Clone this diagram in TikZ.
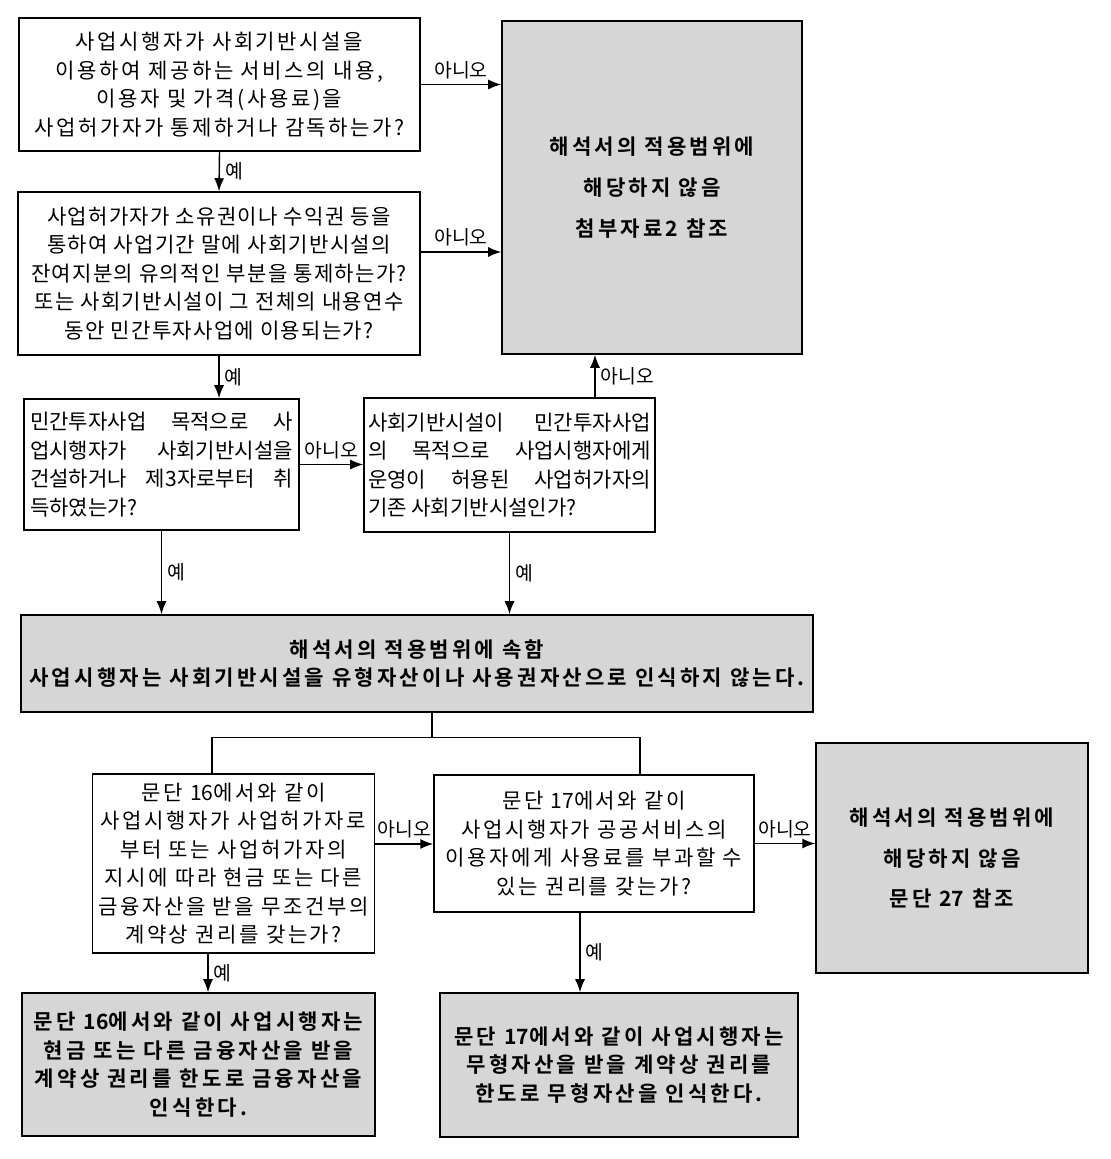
\documentclass[tikz,border=0pt]{standalone}
\usepackage{fontspec}
\newfontfamily\krfont{Noto Sans CJK KR}
\newfontfamily\krwide{Noto Sans CJK KR}[LetterSpace=12]
\newfontfamily\krmid{Noto Sans CJK KR}[LetterSpace=6]
\newfontfamily\krbold{Noto Sans CJK KR Bold}[LetterSpace=15]
\newcommand\tightnum[1]{{\addfontfeatures{LetterSpace=0}#1}}
\usetikzlibrary{arrows.meta}
\definecolor{boxgray}{RGB}{214,214,214}

\begin{document}
\begin{tikzpicture}[x=0.02cm, y=-0.02cm,
    qbox/.style={draw, line width=0.9pt, fill=white, align=center, inner xsep=0.12cm,
        font=\krwide\fontsize{12}{16.2}\selectfont},
    jbox/.style={qbox, align=justify, font=\krfont\fontsize{12}{16.2}\selectfont},
    rbox/.style={qbox, fill=boxgray, font=\krbold\fontsize{12}{16.4}\selectfont},
    tallrbox/.style={rbox, font=\krbold\fontsize{12}{23.3}\selectfont},
    arr/.style={-{Latex[length=0.26cm,width=0.2cm]}, line width=0.8pt},
    lbl/.style={font=\krfont\fontsize{11}{13}\selectfont, inner sep=3pt}]
    \useasboundingbox (0,0) rectangle (1110,1159);

    % questions, upper part
    \node[qbox, minimum width=8.02cm, minimum height=2.66cm] (q1) at (219.5,84.5)
        {사업시행자가 사회기반시설을\\이용하여 제공하는 서비스의 내용,\\이용자 및 가격(사용료)을\\사업허가자가 통제하거나 감독하는가?};
    \node[tallrbox, minimum width=6cm, minimum height=6.66cm] (r1) at (652,187.5)
        {해석서의 적용범위에\\해당하지 않음\\첨부자료2 참조};
    \node[qbox, font=\krmid\fontsize{12}{16.2}\selectfont, minimum width=8.04cm, minimum height=3.26cm] (q2) at (219,273.5)
        {사업허가자가 소유권이나 수익권 등을\\통하여 사업기간 말에 사회기반시설의\\잔여지분의 유의적인 부분을 통제하는가?\\또는 사회기반시설이 그 전체의 내용연수\\동안 민간투자사업에 이용되는가?};
    \node[jbox, text width=5.26cm, minimum height=2.62cm] (q3) at (161.5,464.5)
        {민간투자사업 목적으로 사\linebreak 업시행자가 사회기반시설을\linebreak 건설하거나 제3자로부터 취\linebreak 득하였는가?};
    \node[jbox, inner xsep=0.08cm, text width=5.66cm, minimum height=2.68cm] (q4) at (509.5,465)
        {사회기반시설이 민간투자사업\linebreak 의 목적으로 사업시행자에게\linebreak 운영이 허용된 사업허가자의\linebreak 기존 사회기반시설인가?};
    \node[rbox, minimum width=15.84cm, minimum height=1.94cm] (inc) at (417,663.5)
        {해석서의 적용범위에 속함\\사업시행자는 사회기반시설을 유형자산이나 사용권자산으로 인식하지 않는다.};

    % questions, lower part
    \node[qbox, minimum width=5.62cm, minimum height=3.58cm] (q5) at (233.5,863.5)
        {문단 \tightnum{16}에서와 같이\\사업시행자가 사업허가자로\\부터 또는 사업허가자의\\지시에 따라 현금 또는 다른\\금융자산을 받을 무조건부의\\계약상 권리를 갖는가?};
    \node[qbox, minimum width=6.4cm, minimum height=2.74cm] (q6) at (594,843.5)
        {문단 \tightnum{17}에서와 같이\\사업시행자가 공공서비스의\\이용자에게 사용료를 부과할 수\\있는 권리를 갖는가?};
    \node[tallrbox, minimum width=5.44cm, minimum height=4.6cm] (r2) at (952,858)
        {해석서의 적용범위에\\해당하지 않음\\문단 \tightnum{27} 참조};
    \node[rbox, minimum width=7.06cm, minimum height=2.86cm] (r3) at (198.5,1064.5)
        {문단 \tightnum{16}에서와 같이 사업시행자는\\현금 또는 다른 금융자산을 받을\\계약상 권리를 한도로 금융자산을\\인식한다.};
    \node[rbox, minimum width=7.16cm, minimum height=2.88cm] (r4) at (619,1065)
        {문단 \tightnum{17}에서와 같이 사업시행자는\\무형자산을 받을 계약상 권리를\\한도로 무형자산을 인식한다.};

    % end points off the centre lines
    \coordinate (n2) at ([yshift=0.43cm]q2.east);
    \coordinate (n4) at ([xshift=1.71cm]q4.north);
    \coordinate (n5) at ([yshift=0.39cm]q5.east);
    \coordinate (d5) at ([xshift=-0.51cm]q5.south);
    \coordinate (d6) at ([xshift=-0.28cm]q6.south);
    \coordinate (s5) at ([xshift=-0.43cm]q5.north);
    \coordinate (s6) at ([xshift=0.92cm]q6.north);
    \coordinate (split) at ([xshift=0.3cm,yshift=-0.5cm]inc.south);

    % connectors
    \draw[arr] (q1.east) -- (q1.east -| r1.west) node[lbl, midway, above] {아니오};
    \draw[arr] (q1.south) -- (q2.north) node[lbl, midway, right] {예};
    \draw[arr] (n2) -- (n2 -| r1.west) node[lbl, midway, above] {아니오};
    \draw[arr] (q2.south) -- (q2.south |- q3.north) node[lbl, midway, right] {예};
    \draw[arr] (q3.east) -- (q3.east -| q4.west) node[lbl, midway, above] {아니오};
    \draw[arr] (n4) -- (n4 |- r1.south) node[lbl, midway, right] {아니오};
    \draw[arr] (q3.south) -- (q3.south |- inc.north) node[lbl, midway, right] {예};
    \draw[arr] (q4.south) -- (q4.south |- inc.north) node[lbl, midway, right] {예};
    \draw[line width=0.8pt] (split |- inc.south) -- (split);
    \draw[line width=0.8pt] (s5) |- (split) -| (s6);
    \draw[arr] (n5) -- (n5 -| q6.west) node[lbl, midway, above] {아니오};
    \draw[arr] (q6.east) -- (q6.east -| r2.west) node[lbl, midway, above] {아니오};
    \draw[arr] (d5) -- (d5 |- r3.north) node[lbl, midway, right] {예};
    \draw[arr] (d6) -- (d6 |- r4.north) node[lbl, midway, right] {예};
\end{tikzpicture}
\end{document}
